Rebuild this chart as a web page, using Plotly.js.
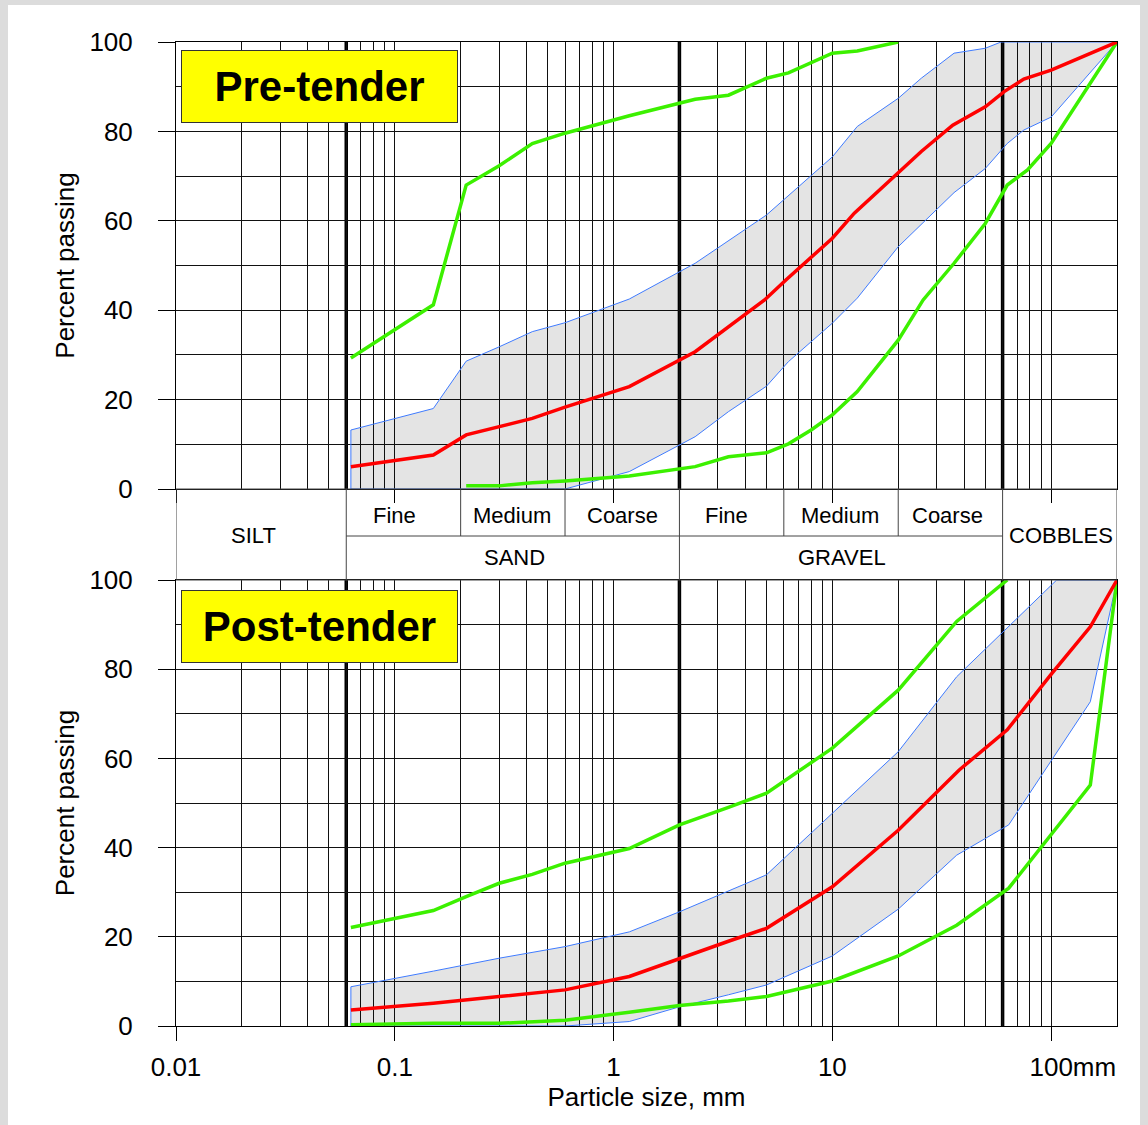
<!DOCTYPE html>
<html>
<head>
<meta charset="utf-8">
<script src="https://cdn.plot.ly/plotly-3.0.1.min.js"></script>
<style>html,body{margin:0;padding:0;background:#fff;}#chart{width:1148px;height:1125px;}</style>
</head>
<body>
<div id="chart"></div>
<script>
// ---------- DATA (particle size in mm, percent passing) ----------
// Pre-tender panel
const preEnvUpperX = [0.063, 0.063, 0.15, 0.212, 0.3, 0.425, 0.6, 1.18, 2.36, 3.35, 5, 10, 13, 20, 25.5, 36, 50, 59, 200];
const preEnvUpperY = [0, 13.2, 18.0, 28.6, 31.8, 35.2, 37.2, 42.5, 50.5, 55.6, 61.3, 74.3, 81.1, 87.4, 91.9, 97.5, 98.6, 100, 100];
const preEnvLowerX = [0.063, 0.6, 1.18, 2.36, 3.35, 5, 6.3, 8, 10, 13, 20, 36, 50, 63, 75, 100, 200];
const preEnvLowerY = [0, 0, 3.9, 11.7, 17.3, 23.0, 28.5, 33.0, 37.1, 42.7, 54.2, 66.3, 71.7, 77.3, 80.3, 83.2, 100];
const preFineLimitX = [0.063, 0.15, 0.212, 0.3, 0.425, 0.6, 1.18, 2.36, 3.35, 5, 6.3, 10, 13, 20];
const preFineLimitY = [29.3, 41.2, 68.0, 72.3, 77.3, 79.6, 83.5, 87.2, 88.1, 91.9, 93.1, 97.5, 98.0, 100];
const preCoarseLimitX = [0.212, 0.3, 0.425, 0.6, 1.18, 2.36, 3.35, 5, 6.3, 8, 10, 13, 20, 26, 36, 50, 63, 78, 100, 200];
const preCoarseLimitY = [0.7, 0.7, 1.4, 1.8, 2.9, 5.0, 7.2, 8.1, 10.1, 13.2, 16.6, 21.8, 33.3, 42.3, 50.5, 59.4, 68.0, 71.4, 77.3, 100];
const preMeanX = [0.063, 0.15, 0.212, 0.425, 0.6, 1.18, 2.36, 4.9, 6.15, 10, 12.6, 20, 25.5, 35.5, 50, 61, 75, 100, 200];
const preMeanY = [5.0, 7.6, 12.1, 15.8, 18.3, 22.9, 30.7, 42.3, 46.8, 56.1, 61.7, 70.6, 75.5, 81.4, 85.5, 88.9, 91.7, 93.7, 100];

// Post-tender panel
const postEnvUpperX = [0.063, 0.063, 0.15, 0.3, 0.6, 1.18, 2, 3.35, 5, 10, 20, 37, 64, 106, 200];
const postEnvUpperY = [0, 8.8, 12.3, 15.2, 17.8, 21.1, 25.6, 30.2, 33.9, 47.7, 61.5, 78.3, 89.5, 100, 100];
const postEnvLowerX = [0.063, 0.6, 1.18, 2, 3.35, 5, 10, 20, 37, 64, 151, 200];
const postEnvLowerY = [0, 0, 1.0, 4.3, 7.0, 9.2, 15.7, 26.2, 38.3, 45.1, 72.7, 100];
const postFineLimitX = [0.063, 0.15, 0.212, 0.3, 0.425, 0.6, 1.18, 2, 3.35, 5, 10, 20, 37, 63];
const postFineLimitY = [22.1, 25.9, 29.0, 32.0, 34.0, 36.5, 39.8, 45.1, 49.0, 52.2, 62.3, 75.3, 90.7, 100];
const postCoarseLimitX = [0.063, 0.15, 0.3, 0.6, 1.18, 2, 3.35, 5, 10, 20, 37, 64, 151, 200];
const postCoarseLimitY = [0.3, 0.6, 0.6, 1.3, 3.1, 4.6, 5.6, 6.6, 10.1, 15.7, 22.6, 30.9, 54.0, 100];
const postMeanX = [0.063, 0.15, 0.3, 0.6, 1.18, 2, 3.35, 5, 10, 20, 38, 63, 101, 151, 200];
const postMeanY = [3.6, 5.1, 6.6, 8.1, 11.1, 15.2, 19.0, 21.9, 31.2, 43.9, 57.4, 66.4, 79.1, 89.5, 100];

// Axis ticks and grid values
const xDecadeTicks = [0.01, 0.1, 1, 10, 100];
const xTickText = ['0.01', '0.1', '1', '10', '\u00a0\u00a0\u00a0\u00a0\u00a0\u00a0100mm'];
const xMinorGrid = [0.02,0.03,0.04,0.05,0.06,0.07,0.08,0.09,
                    0.2,0.3,0.4,0.5,0.6,0.7,0.8,0.9,
                    2,3,4,5,6,7,8,9,
                    20,30,40,50,60,70,80,90, 200];
const yTicks = [0, 20, 40, 60, 80, 100];
const yMinorGrid = [10, 30, 50, 70, 90];

// Soil classification (BS 5930)
const mainBoundaries = [0.06, 2, 60];          // silt/sand, sand/gravel, gravel/cobbles
const subBoundaries = [0.2, 0.6, 6, 20];        // fine/medium/coarse
const silt = {label: 'SILT', from: 0.01, to: 0.06};
const cobbles = {label: 'COBBLES', from: 60, to: 200};
const fractions = [{label: 'SAND', from: 0.06, to: 2}, {label: 'GRAVEL', from: 2, to: 60}];
const subLabels = ['Fine', 'Medium', 'Coarse'];
const panelTitles = ['Pre-tender', 'Post-tender'];

// ---------- LAYOUT GEOMETRY ----------
const W = 1148, H = 1125;
const M = {l: 176, r: 31, t: 42, b: 99};
const plotH = H - M.t - M.b;                  // 984
const pyToPaper = py => (H - M.b - py) / plotH;
const pxToPaper = px => (px - M.l) / (W - M.l - M.r);
const topDomain = [pyToPaper(489), 1];
const botDomain = [0, pyToPaper(580)];
const bandTop = topDomain[0], bandMid = pyToPaper(536), bandBot = botDomain[1];

const FONT = 'Liberation Sans, Arial, sans-serif';
const GRID = '#111';
const BLUE = '#3f7bff', GREEN = '#3cf000', RED = '#ff0000';
const FILL = 'rgba(0,0,0,0.105)';

function panelTraces(xa, ya, envUx, envUy, envLx, envLy, fineX, fineY, coarseX, coarseY, meanX, meanY) {
  const polyX = envUx.concat(envLx.slice().reverse());
  const polyY = envUy.concat(envLy.slice().reverse());
  return [
    {x: polyX, y: polyY, xaxis: xa, yaxis: ya, mode: 'lines', fill: 'toself', fillcolor: FILL, line: {width: 0}, hoverinfo: 'skip'},
    {x: envUx, y: envUy, xaxis: xa, yaxis: ya, mode: 'lines', line: {color: BLUE, width: 1}},
    {x: envLx, y: envLy, xaxis: xa, yaxis: ya, mode: 'lines', line: {color: BLUE, width: 1}},
    {x: fineX, y: fineY, xaxis: xa, yaxis: ya, mode: 'lines', line: {color: GREEN, width: 3.5}},
    {x: coarseX, y: coarseY, xaxis: xa, yaxis: ya, mode: 'lines', line: {color: GREEN, width: 3.5}},
    {x: meanX, y: meanY, xaxis: xa, yaxis: ya, mode: 'lines', line: {color: RED, width: 3.5}}
  ];
}

const data = [].concat(
  panelTraces('x', 'y', preEnvUpperX, preEnvUpperY, preEnvLowerX, preEnvLowerY,
              preFineLimitX, preFineLimitY, preCoarseLimitX, preCoarseLimitY, preMeanX, preMeanY),
  panelTraces('x2', 'y2', postEnvUpperX, postEnvUpperY, postEnvLowerX, postEnvLowerY,
              postFineLimitX, postFineLimitY, postCoarseLimitX, postCoarseLimitY, postMeanX, postMeanY)
);

function xAxis(anchor, labels) {
  return {
    type: 'log', range: [-2, Math.log10(200)], anchor: anchor,
    tickmode: 'array', tickvals: xDecadeTicks, ticktext: xTickText,
    showticklabels: labels, ticks: 'outside', ticklen: labels ? 14 : 13, tickcolor: '#000', tickwidth: 1,
    ticklabelstandoff: 4,
    tickfont: {family: FONT, size: 26, color: '#000'},
    showgrid: true, gridcolor: GRID, gridwidth: 1,
    minor: {tickmode: 'array', tickvals: xMinorGrid, showgrid: true, gridcolor: GRID, gridwidth: 1, ticks: ''},
    showline: true, linecolor: '#000', linewidth: 1, mirror: true, zeroline: false, fixedrange: true
  };
}
function yAxis(anchor, domain) {
  return {
    domain: domain, anchor: anchor, range: [0, 100],
    tickmode: 'array', tickvals: yTicks,
    ticks: 'outside', ticklen: 17, tickcolor: '#000', tickwidth: 1, ticklabelstandoff: 20,
    tickfont: {family: FONT, size: 26, color: '#000'},
    showgrid: true, gridcolor: GRID, gridwidth: 1,
    minor: {tickmode: 'array', tickvals: yMinorGrid, showgrid: true, gridcolor: GRID, gridwidth: 1, ticks: ''},
    showline: true, linecolor: '#000', linewidth: 1, mirror: true, zeroline: false, fixedrange: true,
    title: {text: 'Percent passing', font: {family: FONT, size: 26, color: '#000'}, standoff: 7}
  };
}

const shapes = [];
// outer grey frame: white sheet on grey paper
shapes.push({type: 'rect', xref: 'paper', yref: 'paper', layer: 'below',
  x0: pxToPaper(8), x1: pxToPaper(1140), y0: pyToPaper(H + 5), y1: pyToPaper(5),
  fillcolor: '#ffffff', line: {width: 0}});
// thick classification boundaries in both panels
[['x', 'y'], ['x2', 'y2']].forEach(([xr, yr]) => {
  mainBoundaries.forEach(b => shapes.push({type: 'line', xref: xr, yref: yr, layer: 'below',
    x0: b, x1: b, y0: 0, y1: 100, line: {color: '#000', width: 3.5}}));
});
// classification band
const BAND = {color: '#444', width: 1};
shapes.push({type: 'rect', xref: 'x', yref: 'paper', x0: 0.01, x1: 200, y0: bandBot, y1: bandTop, line: BAND});
mainBoundaries.forEach(b => shapes.push({type: 'line', xref: 'x', yref: 'paper', x0: b, x1: b, y0: bandBot, y1: bandTop, line: BAND}));
subBoundaries.forEach(b => shapes.push({type: 'line', xref: 'x', yref: 'paper', x0: b, x1: b, y0: bandMid, y1: bandTop, line: BAND}));
shapes.push({type: 'line', xref: 'x', yref: 'paper', x0: mainBoundaries[0], x1: mainBoundaries[2], y0: bandMid, y1: bandMid, line: BAND});

const lmid = (a, b) => (Math.log10(a) + Math.log10(b)) / 2;
const bandFont = {family: FONT, size: 22, color: '#000'};
const labelShift = {SILT: -8, Fine: -7, Medium: -1, Coarse: -1, COBBLES: 1, SAND: 2, GRAVEL: 1};
const annotations = [];
[silt, cobbles].forEach(c => annotations.push({xref: 'x', yref: 'paper', x: lmid(c.from, c.to), y: pyToPaper(535),
  xshift: labelShift[c.label], text: c.label, showarrow: false, font: bandFont, xanchor: 'center', yanchor: 'middle'}));
fractions.forEach(f => {
  annotations.push({xref: 'x', yref: 'paper', x: lmid(f.from, f.to), y: pyToPaper(557), xshift: labelShift[f.label],
    text: f.label, showarrow: false, font: bandFont, xanchor: 'center', yanchor: 'middle'});
  const r = Math.pow(f.to / f.from, 1 / 3);
  subLabels.forEach((s, i) => {
    const a = f.from * Math.pow(r, i), b = f.from * Math.pow(r, i + 1);
    annotations.push({xref: 'x', yref: 'paper', x: lmid(a, b), y: pyToPaper(515), xshift: labelShift[s],
      text: s, showarrow: false, font: bandFont, xanchor: 'center', yanchor: 'middle'});
  });
});
// panel title boxes
[[panelTitles[0], 50], [panelTitles[1], 590]].forEach(([t, py]) => annotations.push({
  xref: 'paper', yref: 'paper', x: pxToPaper(181), y: pyToPaper(py), xanchor: 'left', yanchor: 'top',
  text: '<b>' + t + '</b>', showarrow: false, font: {family: FONT, size: 42, color: '#000'},
  bgcolor: '#ffff00', bordercolor: '#333', borderwidth: 1, width: 273, height: 69, align: 'center', valign: 'middle'
}));

const layout = {
  width: W, height: H, margin: M,
  paper_bgcolor: '#dcdcdc', plot_bgcolor: '#ffffff',
  showlegend: false,
  font: {family: FONT, color: '#000'},
  xaxis: xAxis('y', false),
  yaxis: yAxis('x', topDomain),
  xaxis2: Object.assign(xAxis('y2', true), {title: {text: 'Particle size, mm', font: {family: FONT, size: 26, color: '#000'}, standoff: 0}}),
  yaxis2: yAxis('x2', botDomain),
  shapes: shapes,
  annotations: annotations
};

Plotly.newPlot('chart', data, layout, {staticPlot: true, displayModeBar: false});
</script>
</body>
</html>
